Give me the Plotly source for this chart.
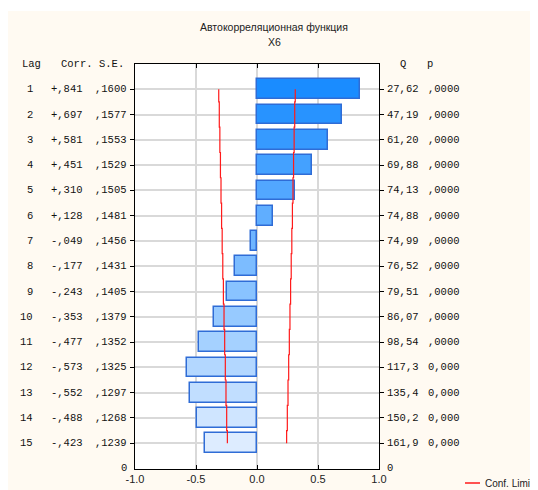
import plotly.graph_objects as go

lags = list(range(1, 16))
corr = [0.841, 0.697, 0.581, 0.451, 0.310, 0.128, -0.049, -0.177, -0.243,
        -0.353, -0.477, -0.573, -0.552, -0.488, -0.423]
se = [0.1600, 0.1577, 0.1553, 0.1529, 0.1505, 0.1481, 0.1456, 0.1431, 0.1405,
      0.1379, 0.1352, 0.1325, 0.1297, 0.1268, 0.1239]
corr_text = ["+,841", "+,697", "+,581", "+,451", "+,310", "+,128", "-,049", "-,177",
             "-,243", "-,353", "-,477", "-,573", "-,552", "-,488", "-,423"]
se_text = [",1600", ",1577", ",1553", ",1529", ",1505", ",1481", ",1456", ",1431",
           ",1405", ",1379", ",1352", ",1325", ",1297", ",1268", ",1239"]
q_text = ["27,62", "47,19", "61,20", "69,88", "74,13", "74,88", "74,99", "76,52",
          "79,51", "86,07", "98,54", "117,3", "135,4", "150,2", "161,9"]
p_text = [",0000"] * 11 + ["0,000"] * 4
x_ticks = [-1.0, -0.5, 0.0, 0.5, 1.0]
x_ticktext = ["-1.0", "-0.5", "0.0", "0.5", "1.0"]

OFF = 8  # page body margin
W, H = 538, 490
L, R, T, B = 127, 167, 56, 29
pw, ph = W - L - R, H - T - B

def px(x):  # page pixel -> paper x
    return (x - OFF - L) / pw

def py(y):  # page pixel -> paper y
    return (H - B - (y - OFF)) / ph

# bar colours: dark -> pale blue
c0 = (26, 140, 255)
c1 = (221, 236, 255)
n = len(lags)
colors = []
for i in range(n):
    t = i / (n - 1)
    colors.append("rgb(%d,%d,%d)" % tuple(round(c0[k] + (c1[k] - c0[k]) * t) for k in range(3)))

fig = go.Figure()
fig.add_trace(go.Bar(
    x=corr, y=lags, orientation="h", width=0.78,
    marker=dict(color=colors, line=dict(color="#2f6cd6", width=1.5)),
    showlegend=False, hoverinfo="skip"))
fig.add_trace(go.Scatter(
    x=[-1.96 * s for s in se], y=lags, mode="lines",
    line=dict(color="#ff1a1a", width=1.2, shape="vhv"), showlegend=False))
fig.add_trace(go.Scatter(
    x=[1.96 * s for s in se], y=lags, mode="lines",
    line=dict(color="#ff1a1a", width=1.2, shape="vhv"), showlegend=False))

mono = dict(family="Liberation Mono", size=10.5, color="#111111")
ann = []
def a(text, x, y, xanchor, yref="y", font=mono):
    ann.append(dict(text=text, x=x, y=y, xref="paper", yref=yref, xanchor=xanchor,
                    yanchor="middle", showarrow=False, font=font))

a("Lag", px(20), 0, "left")
a("Corr.", px(59), 0, "left")
a("S.E.", px(97), 0, "left")
a("Q", px(398), 0, "left")
a("p", px(425), 0, "left")
for i, lg in enumerate(lags):
    a(str(lg), px(35), lg, "right")
    a(corr_text[i], px(85), lg, "right")
    a(se_text[i], px(129), lg, "right")
    a(q_text[i], px(385), lg, "left")
    a(p_text[i], px(426), lg, "left")
a("0", px(129), 16, "right")
a("0", px(385), 16, "left")

sans = dict(family="Liberation Sans", size=10.5, color="#222222")
a("Автокорреляционная функция", px(274), py(27), "center", yref="paper", font=sans)
a("X6", px(274), py(42), "center", yref="paper", font=sans)
a("Conf. Limit", px(483), py(483), "left", yref="paper",
  font=dict(family="Liberation Sans", size=10, color="#222222"))

shapes = [
    dict(type="line", xref="paper", yref="paper", x0=px(465), x1=px(480),
         y0=py(483), y1=py(483), line=dict(color="#ff1a1a", width=1.5)),
    dict(type="rect", xref="paper", yref="paper", x0=px(0), x1=px(560),
         y0=py(11), y1=py(0), fillcolor="white", line=dict(width=0), layer="below"),
]

fig.update_layout(
    width=W, height=H, margin=dict(l=L, r=R, t=T, b=B, pad=0),
    paper_bgcolor="#fffaf2", plot_bgcolor="white",
    annotations=ann, shapes=shapes, bargap=0,
    xaxis=dict(range=[-1, 1], tickvals=x_ticks, ticktext=x_ticktext,
               showgrid=True, gridcolor="#d9d9d9", gridwidth=1.5, zeroline=False,
               showline=True, linecolor="black", linewidth=1.2, mirror="ticks",
               ticks="inside", ticklen=4, tickcolor="black",
               tickfont=dict(family="Liberation Sans", size=11, color="#222222")),
    yaxis=dict(range=[16.02, 0], tickvals=lags, showticklabels=False,
               showgrid=True, gridcolor="#d9d9d9", gridwidth=1.5, zeroline=False,
               showline=True, linecolor="black", linewidth=1.2, mirror="ticks",
               ticks="outside", ticklen=4, tickcolor="black"),
)

fig.write_html("out.html")
